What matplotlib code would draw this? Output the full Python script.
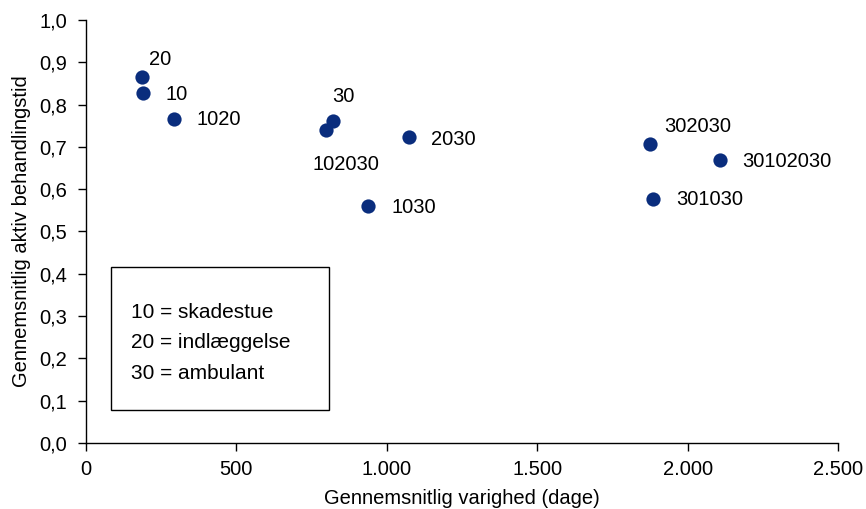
import matplotlib.pyplot as plt
from matplotlib.patches import Rectangle
from matplotlib.ticker import FuncFormatter

plt.rcParams['font.family'] = ['Liberation Sans', 'DejaVu Sans']

# data
labels = ['20', '10', '1020', '30', '102030', '2030', '1030', '302030', '30102030', '301030']
duration = [187, 191, 293, 822, 797, 1074, 938, 1875, 2108, 1886]
active = [0.865, 0.827, 0.766, 0.761, 0.740, 0.723, 0.560, 0.706, 0.668, 0.578]
legend_lines = ['10 = skadestue', '20 = indlæggelse', '30 = ambulant']

# label offsets in pixels (right, up)
offsets = [(7, 18), (22, -1), (22, -1), (-1, 25), (-13, -35), (22, -2), (23, -1), (14, 18), (22, -1), (23, -1)]

fs = 14.5

fig = plt.figure(figsize=(8.66, 5.09), dpi=100)
ax = fig.add_axes([0.0993, 0.1297, 0.8684, 0.831])

ax.scatter(duration, active, s=105, color='#0a2d7d', zorder=3, linewidths=0)
for lab, x, y, off in zip(labels, duration, active, offsets):
	ax.annotate(lab, (x, y), xytext=off, textcoords='offset pixels',
		ha='left', va='center', fontsize=fs)

ax.set_xlim(0, 2500)
ax.set_ylim(0, 1.0)
ax.set_xticks(range(0, 2501, 500))
ax.set_yticks([i / 10 for i in range(11)])
ax.xaxis.set_major_formatter(FuncFormatter(lambda v, p: f'{int(v):,}'.replace(',', '.')))
ax.yaxis.set_major_formatter(FuncFormatter(lambda v, p: f'{v:.1f}'.replace('.', ',')))
ax.tick_params(direction='out', length=5.5, width=1, labelsize=fs, color='black')
ax.tick_params(axis='y', pad=8)
ax.tick_params(axis='x', pad=7)
ax.spines['top'].set_visible(False)
ax.spines['right'].set_visible(False)
for s in ['left', 'bottom']:
	ax.spines[s].set_color('black')
	ax.spines[s].set_linewidth(1)

ax.set_xlabel('Gennemsnitlig varighed (dage)', fontsize=fs, labelpad=7)
ax.set_ylabel('Gennemsnitlig aktiv behandlingstid', fontsize=fs, labelpad=6)

# text box with code explanations
ax.add_patch(Rectangle((0.033, 0.079), 0.290, 0.336, transform=ax.transAxes,
	fill=False, edgecolor='black', linewidth=1, zorder=4))
for i, line in enumerate(legend_lines):
	ax.text(0.060, 0.309 - i * 0.072, line, transform=ax.transAxes,
		ha='left', va='center', fontsize=15)

fig.savefig('out.png', dpi=100)
